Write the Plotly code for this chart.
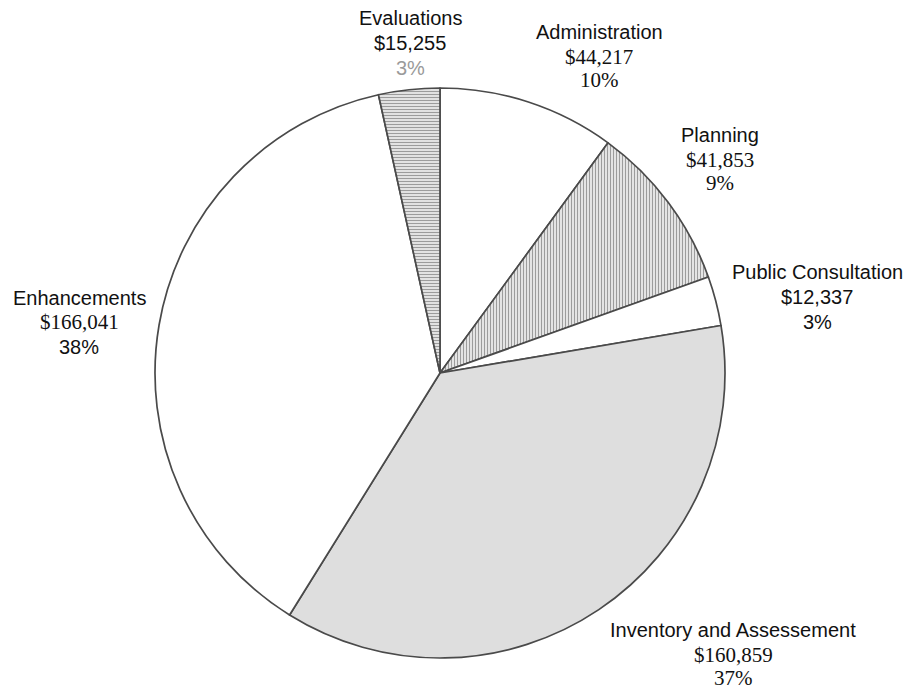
import plotly.graph_objects as go

categories = ["Administration", "Planning", "Public Consultation",
              "Inventory and Assessement", "Enhancements", "Evaluations"]
amounts = [44217, 41853, 12337, 160859, 166041, 15255]
percent_labels = ["10%", "9%", "3%", "37%", "38%", "3%"]

W, H = 906, 691

fills = ["#ffffff", "#e4e4e4", "#ffffff", "#dedede", "#ffffff", "#e2e2e2"]
shapes = ["", "|", "", "", "", "-"]

fig = go.Figure(go.Pie(
    labels=categories,
    values=amounts,
    sort=False,
    direction="clockwise",
    rotation=0,
    textinfo="none",
    hoverinfo="label+value+percent",
    showlegend=False,
    marker=dict(
        colors=fills,
        line=dict(color="#4a4a4a", width=1.7),
        pattern=dict(shape=shapes, fgcolor="#9c9c9c", bgcolor=fills,
                     size=3, solidity=0.35),
    ),
    domain=dict(x=[(440 - 285) / W, (440 + 285) / W],
                y=[(H - 373 - 285) / H, (H - 373 + 285) / H]),
))

SANS = "Liberation Sans, Arial, sans-serif"
SERIF = "Liberation Serif, Times New Roman, serif"

# label layout: (center x px, [y px of 3 lines], [font of value, font of pct], pct color)
layout_info = [
    (599, [32, 57, 80], [SERIF, SERIF], "#111111"),
    (720, [135, 160, 183], [SERIF, SERIF], "#111111"),
    (817, [272, 297, 322], [SANS, SANS], "#111111"),
    (733, [630, 655, 678], [SERIF, SERIF], "#111111"),
    (79, [298, 322, 347], [SERIF, SANS], "#111111"),
    (410, [18, 43, 68], [SANS, SANS], "#9a9a9a"),
]

annotations = []
for cat, amt, pct, (cx, ys, fonts, pcol) in zip(categories, amounts, percent_labels, layout_info):
    lines = [(cat, SANS, 20, "#111111"),
             (f"${amt:,}", fonts[0], 21 if fonts[0] == SERIF else 20, "#111111"),
             (pct, fonts[1], 21 if fonts[1] == SERIF else 20, pcol)]
    for (txt, fam, sz, col), y in zip(lines, ys):
        annotations.append(dict(
            x=cx / W, y=1 - y / H, xref="paper", yref="paper",
            xanchor="center", yanchor="middle", showarrow=False,
            text=txt, font=dict(family=fam, size=sz, color=col)))

fig.update_layout(
    width=W, height=H,
    margin=dict(l=0, r=0, t=0, b=0),
    paper_bgcolor="white", plot_bgcolor="white",
    annotations=annotations,
)

fig.write_html("out.html",
               config={"displayModeBar": False},
               post_script="document.body.style.margin='0px';document.body.style.padding='0px';")
